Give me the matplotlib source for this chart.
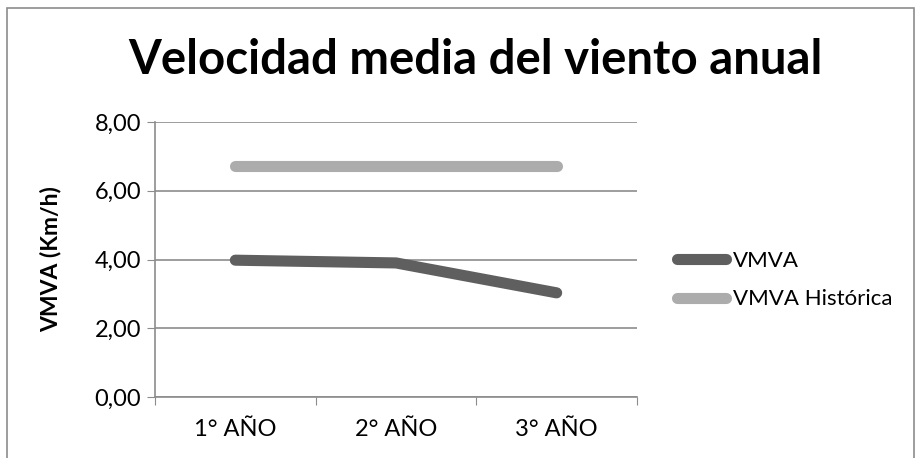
import matplotlib
matplotlib.use("Agg")
import matplotlib.pyplot as plt
from matplotlib.patches import Rectangle
from matplotlib.ticker import FuncFormatter

categorias = ["1° AÑO", "2° AÑO", "3° AÑO"]
vmva = [3.98, 3.90, 3.03]
vmva_historica = [6.72, 6.72, 6.72]

plt.rcParams["font.family"] = ["Lato", "DejaVu Sans"]

fig = plt.figure(figsize=(9.18, 4.58), dpi=100)
ax = fig.add_axes([155 / 918, 1 - 397 / 458, (637 - 155) / 918, (397 - 122) / 458])

x = range(len(categorias))
ax.plot(x, vmva, color="#5f5f5f", lw=8, solid_capstyle="round",
        solid_joinstyle="round", label="VMVA")
ax.plot(x, vmva_historica, color="#acacac", lw=8, solid_capstyle="round",
        label="VMVA Histórica")

ax.set_xlim(-0.5, len(categorias) - 0.5)
ax.set_ylim(0, 8)
ax.set_yticks([0, 2, 4, 6, 8])
ax.yaxis.set_major_formatter(FuncFormatter(lambda v, p: f"{v:.2f}".replace(".", ",")))
ax.set_xticks([-0.5, 0.5, 1.5, 2.5])
ax.set_xticklabels([])
ax.set_xticks(list(x), minor=True)
ax.set_xticklabels(categorias, minor=True)
ax.tick_params(axis="x", which="minor", length=0, labelsize=17, pad=16)
ax.tick_params(axis="x", which="major", length=6, color="#8c8c8c", direction="out")
ax.tick_params(axis="y", length=6, color="#8c8c8c", labelsize=17, pad=4)
ax.grid(axis="y", color="#8c8c8c", lw=1.2)
ax.set_axisbelow(True)
for s in ["top", "right"]:
    ax.spines[s].set_visible(False)
for s in ["left", "bottom"]:
    ax.spines[s].set_color("#8c8c8c")
    ax.spines[s].set_linewidth(1.2)

ax.set_ylabel("VMVA (Km/h)", fontsize=16.5, fontweight="bold", labelpad=24)
fig.text(475 / 918, 1 - 60 / 458, "Velocidad media del viento anual", ha="center",
         va="center", fontsize=34, fontweight="bold")

ax.legend(loc="center left", bbox_to_anchor=(677 / 918, 1 - 280 / 458),
          bbox_transform=fig.transFigure, frameon=False, fontsize=16,
          handlelength=2.2, handletextpad=0.3, labelspacing=0.85,
          borderaxespad=0, borderpad=0)

fig.patches.append(Rectangle((7 / 918, -0.01), 907 / 918, 1 - 8 / 458 + 0.01,
                             transform=fig.transFigure, fill=False,
                             edgecolor="#8c8c8c", lw=1.2))

fig.savefig("out.png", dpi=100)
